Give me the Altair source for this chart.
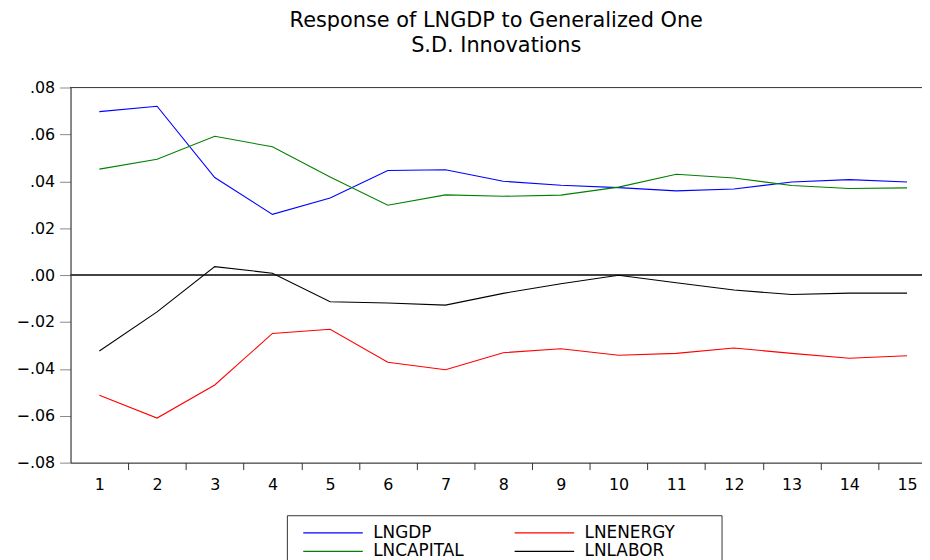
import altair as alt
import pandas as pd

periods = list(range(1, 16))
lngdp = [0.0697, 0.0720, 0.0416, 0.0259, 0.0329, 0.0446, 0.0449, 0.0400,
         0.0383, 0.0373, 0.0359, 0.0367, 0.0397, 0.0407, 0.0397]
lncapital = [0.0452, 0.0494, 0.0592, 0.0547, 0.0418, 0.0298, 0.0342, 0.0336,
             0.0341, 0.0375, 0.0430, 0.0414, 0.0382, 0.0369, 0.0372]
lnlabor = [-0.0324, -0.0157, 0.0036, 0.0008, -0.0114, -0.0119, -0.0128, -0.0078,
           -0.0037, -0.0001, -0.0033, -0.0064, -0.0083, -0.0077, -0.0077]
lnenergy = [-0.0513, -0.0610, -0.0469, -0.0249, -0.0231, -0.0372, -0.0404, -0.0331,
            -0.0314, -0.0342, -0.0334, -0.0311, -0.0334, -0.0355, -0.0344]

# legend is filled column by column: GDP, CAPITAL | ENERGY, LABOR
series_names = ["LNGDP", "LNCAPITAL", "LNENERGY", "LNLABOR"]
series_colors = ["#0000FF", "#008000", "#FF0000", "#000000"]
y_ticks = [-0.08, -0.06, -0.04, -0.02, 0.0, 0.02, 0.04, 0.06, 0.08]

rows = []
for name, vals in zip(["LNGDP", "LNCAPITAL", "LNLABOR", "LNENERGY"],
                      [lngdp, lncapital, lnlabor, lnenergy]):
    for p, v in zip(periods, vals):
        rows.append({"period": p, "value": v, "series": name})
df = pd.DataFrame(rows)

FONT = "DejaVu Sans"
W = 858
H = 378
step = W / (15.26 - 0.5)

x_scale = alt.Scale(domain=[0.5, 15.26], nice=False, zero=False)
y_scale = alt.Scale(domain=[-0.08, 0.08], nice=False, zero=False)

lines = alt.Chart(df).mark_line(strokeWidth=1.1).encode(
    x=alt.X("period:Q", scale=x_scale, title=None,
            axis=alt.Axis(values=periods, format="d", tickOffset=step / 2,
                          labelOffset=-step / 2, tickSize=7, tickColor="#333333",
                          domainColor="#222222", labelFont=FONT, labelFontSize=16,
                          labelColor="black", labelPadding=7, grid=False)),
    y=alt.Y("value:Q", scale=y_scale, title=None,
            axis=alt.Axis(values=y_ticks,
                          labelExpr="replace(format(datum.value, '.2f'), '0.', '.')",
                          tickSize=11, tickColor="#888888", domainColor="#222222",
                          labelFont=FONT, labelFontSize=16, labelColor="black",
                          labelPadding=5, grid=False)),
    color=alt.Color("series:N",
                    scale=alt.Scale(domain=series_names, range=series_colors),
                    legend=alt.Legend(title=None, orient="none", direction="vertical",
                                      legendX=218, legendY=431,
                                      columns=2, symbolType="M-0.2,0H11.8",
                                      symbolSize=100, symbolStrokeWidth=1.2,
                                      symbolFillColor="transparent",
                                      labelFont=FONT, labelFontSize=17,
                                      labelColor="black",
                                      labelExpr="datum.label + '\u2800\u2800\u2800'",
                                      labelOffset=61, columnPadding=6, rowPadding=1,
                                      padding=9, strokeColor="#333333",
                                      fillColor="white")),
)

zero_line = alt.Chart(df).mark_rule(color="#444444", strokeWidth=1).encode(
    y=alt.datum(0.0, scale=y_scale)
)
top_line = alt.Chart(df).mark_rule(color="#444444", strokeWidth=1.2).encode(
    y=alt.datum(0.08, scale=y_scale)
)

chart = alt.layer(zero_line, top_line, lines).properties(
    width=W, height=H,
    title=alt.TitleParams(["Response of LNGDP to Generalized One", "S.D. Innovations"],
                          font=FONT, fontSize=21, fontWeight="normal", color="black",
                          lineHeight=25, offset=24, anchor="middle"),
    autosize=alt.AutoSizeParams(type="none"),
    padding={"left": 63, "top": 78, "right": 0, "bottom": 96},
).configure_view(stroke=None).configure(background="white")

chart.save("out.html", embed_options={"renderer": "svg", "actions": False})
